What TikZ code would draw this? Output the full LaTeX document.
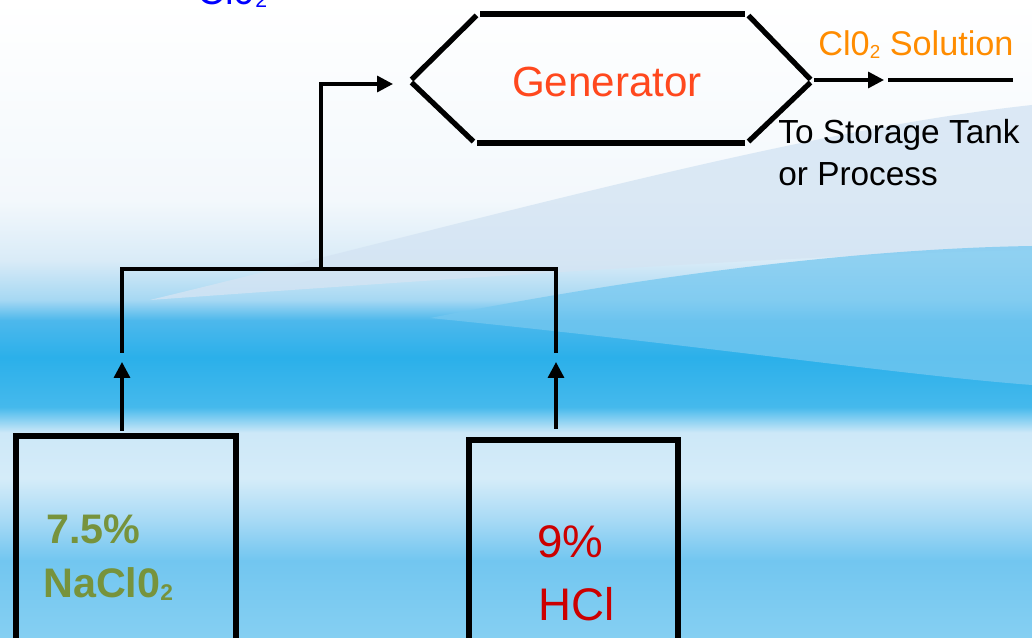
\documentclass[tikz,border=0pt]{standalone}
\usepackage{fontspec}
\usepackage{graphicx}
\setmainfont{Liberation Sans}
\usetikzlibrary{arrows.meta}

\definecolor{bgA}{RGB}{133,207,242}
\definecolor{bgB}{RGB}{114,198,240}
\definecolor{bgC}{RGB}{168,218,245}
\definecolor{bgD}{RGB}{213,236,249}
\definecolor{bgE}{RGB}{205,232,248}
\definecolor{bgF}{RGB}{69,185,236}
\definecolor{bgG}{RGB}{43,176,234}
\definecolor{bgH}{RGB}{77,184,236}
\definecolor{bgI}{RGB}{166,216,243}
\definecolor{bgJ}{RGB}{217,235,247}
\definecolor{bgK}{RGB}{243,248,252}
\definecolor{bgPale}{RGB}{212,228,243}
\definecolor{bgMid}{RGB}{118,200,240}
\definecolor{solorange}{RGB}{255,140,0}
\definecolor{genred}{RGB}{255,72,30}
\definecolor{chlorolive}{RGB}{119,147,60}
\definecolor{acidred}{RGB}{204,0,0}

% shading stops: 25bp = bottom edge, 75bp = top edge
\pgfdeclareverticalshading{slidewaves}{100bp}{color(0bp)=(bgA); color(25bp)=(bgA);
  color(31.1bp)=(bgB); color(34.3bp)=(bgC); color(37.5bp)=(bgD); color(41.1bp)=(bgE);
  color(43.1bp)=(bgF); color(47.0bp)=(bgG); color(49.9bp)=(bgH); color(51.5bp)=(bgI);
  color(54.6bp)=(bgJ); color(59.3bp)=(bgK); color(75bp)=(white); color(100bp)=(white)}

\newcommand{\lowtwo}{\raisebox{-0.06em}{\scalebox{0.55}{2}}}

\begin{document}
\begin{tikzpicture}[x=0.02cm, y=-0.02cm,
    hexline/.style = {line width=3pt, shorten <=1.2pt, shorten >=1.2pt},
    pipe/.style = {line width=1.9pt},
    flow/.style = {line width=1.9pt, -{Triangle[length=9pt, width=9pt]}},
    tank/.style = {draw, line width=3.6pt, inner sep=0pt, outer sep=0pt, anchor=north},
    lbl/.style = {anchor=base west, inner sep=0pt}]
    \useasboundingbox (0, 0) rectangle (1032, 638);
    % slide background
    \shade [shading = slidewaves] (0, 0) rectangle (1032, 638);
    \fill [bgPale, opacity = 0.8] (150, 300) .. controls (500, 215) and (800, 130) .. (1032, 105) -- (1032, 250) .. controls (800, 255) and (500, 275) .. (150, 300) -- cycle;
    \fill [bgMid, opacity = 0.75] (430, 318) .. controls (700, 265) and (900, 248) .. (1032, 246) -- (1032, 385) .. controls (900, 375) and (700, 345) .. (430, 318) -- cycle;

    \node [lbl, blue, font = \fontsize{22}{26}\selectfont] (clo) at (197, 5) {Cl0\lowtwo};

    % generator
    \coordinate (gW) at (410, 81);
    \coordinate (gNW) at (478, 14);
    \coordinate (gNE) at (747, 14);
    \coordinate (gE) at (812, 81);
    \coordinate (gSE) at (747, 143);
    \coordinate (gSW) at (475, 143);
    \draw [hexline] (gW) to (gNW);
    \draw [hexline] (gNW) to (gNE);
    \draw [hexline] (gNE) to (gE);
    \draw [hexline] (gE) to (gSE);
    \draw [hexline] (gSE) to (gSW);
    \draw [hexline] (gSW) to (gW);
    \node [genred, font = \fontsize{24}{28}\selectfont] (gen) at (607, 82) {Generator};

    % tanks
    \node [tank, minimum width = 4.4cm, minimum height = 5cm] (tankA) at (126, 436) {};
    \node [tank, minimum width = 4.18cm, minimum height = 5cm] (tankB) at (573.5, 440) {};
    \node [lbl, chlorolive, font = \bfseries\fontsize{23.5}{28}\selectfont] (pctA) at (46, 544) {7.5\%};
    \node [lbl, chlorolive, font = \bfseries\fontsize{23.5}{28}\selectfont] (nacl) at (43, 598) {NaCl0\lowtwo};
    \node [lbl, acidred, font = \fontsize{26}{30}\selectfont] (pctB) at (537, 558) {9\%};
    \node [lbl, acidred, font = \fontsize{26}{30}\selectfont] (hcl) at (538, 621) {HCl};

    % feed lines
    \coordinate (outA) at (122, 431);
    \coordinate (tipA) at (122, 362);
    \coordinate (outB) at (556, 429);
    \coordinate (tipB) at (556, 362);
    \coordinate (jA) at (122, 353);
    \coordinate (jB) at (556, 353);
    \coordinate (bL) at (122, 269);
    \coordinate (bM) at (321, 269);
    \coordinate (bR) at (556, 269);
    \coordinate (up) at (321, 84);
    \coordinate (inlet) at (393, 84);
    \draw [flow] (outA) to (tipA);
    \draw [flow] (outB) to (tipB);
    \draw [pipe] (jA) -- (bL) -- (bR) -- (jB);
    \draw [flow] (bM) -- (up) -- (inlet);

    % product line
    \coordinate (exit) at (814, 80);
    \coordinate (tipC) at (884, 80);
    \coordinate (lineS) at (888, 80);
    \coordinate (lineE) at (1013, 80);
    \draw [flow] (exit) to (tipC);
    \draw [pipe] (lineS) to (lineE);
    \node [lbl, solorange, font = \fontsize{19.5}{23}\selectfont] (sol) at (818, 56) {Cl0\lowtwo{} Solution};
    \node [anchor = north west, align = left, inner sep = 0pt, font = \fontsize{19}{24}\selectfont] (dest) at (778, 119) {To Storage Tank\\or Process};
\end{tikzpicture}
\end{document}
